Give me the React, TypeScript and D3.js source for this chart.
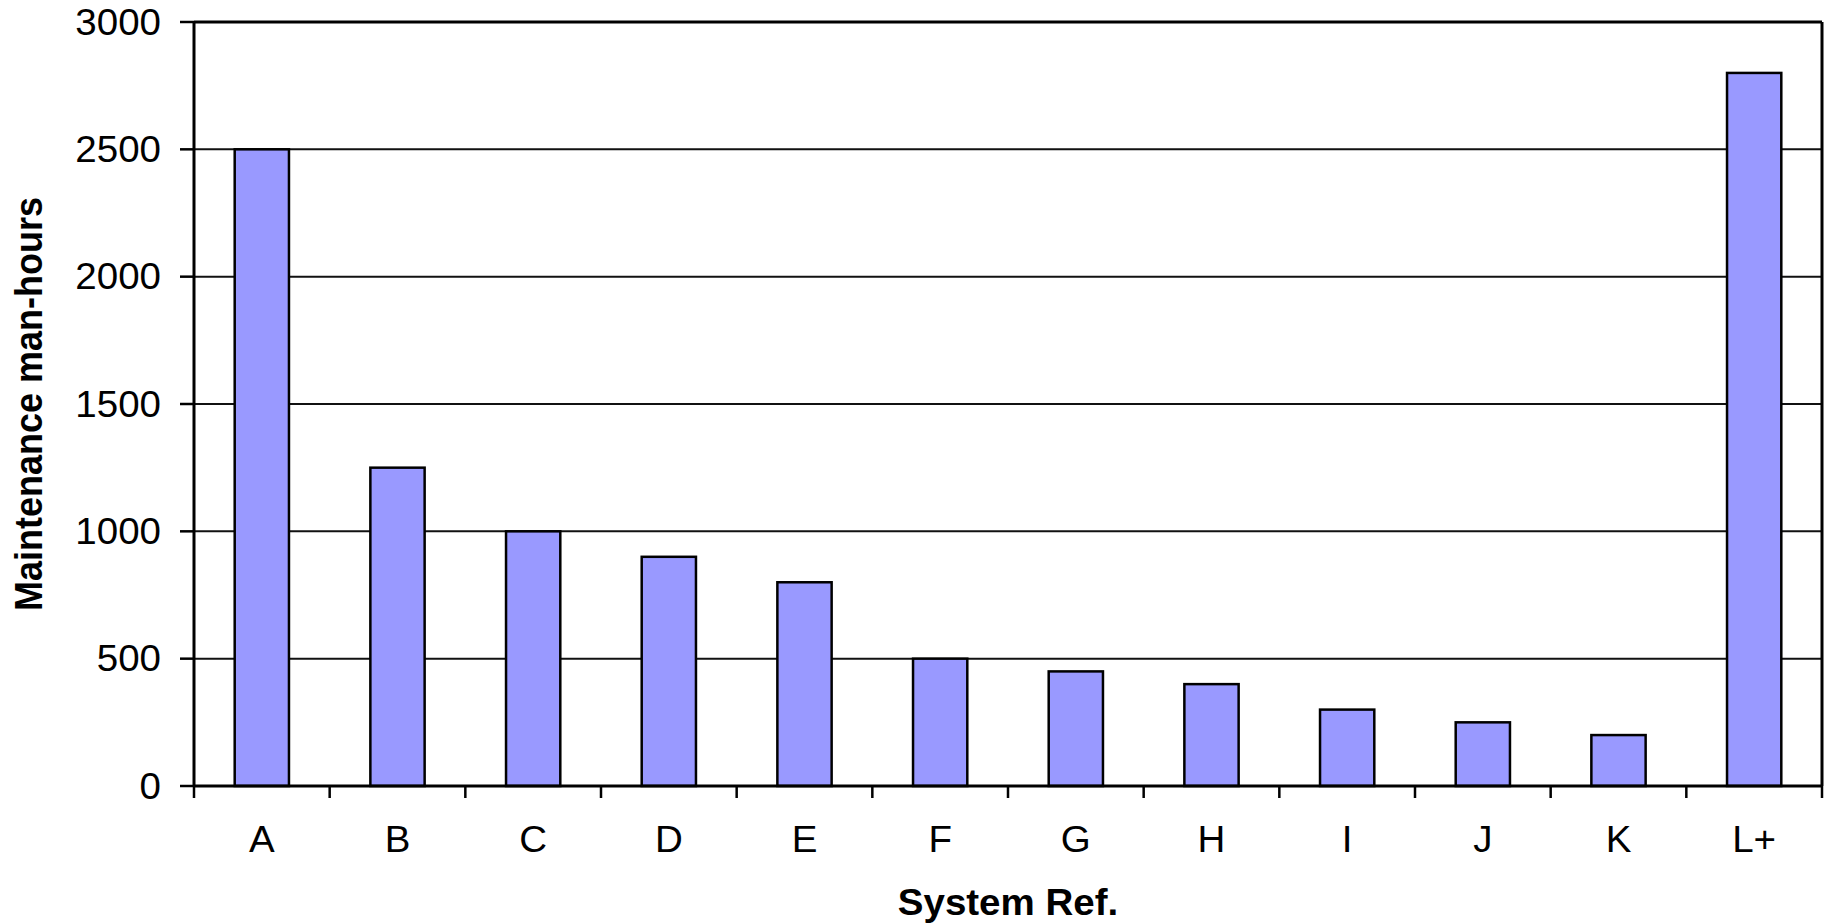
import React from "react";
import * as d3 from "d3";

// Maintenance effort per system
const categories: string[] = ["A", "B", "C", "D", "E", "F", "G", "H", "I", "J", "K", "L+"];
const manHours: number[] = [2500, 1250, 1000, 900, 800, 500, 450, 400, 300, 250, 200, 2800];
const yTicks: number[] = [0, 500, 1000, 1500, 2000, 2500, 3000];

const yTitle = "Maintenance man-hours";
const xTitle = "System Ref.";

const W = 1824;
const H = 923;
const plot = { left: 194, right: 1822, top: 22, bottom: 786 };
const FONT = "'Liberation Sans', Arial, Helvetica, sans-serif";
const FS = 36;
const SX = 1.07;

export default function App() {
  const x = d3
    .scaleBand<string>()
    .domain(categories)
    .range([plot.left, plot.right])
    .paddingInner(0.6)
    .paddingOuter(0.3);
  const step = (plot.right - plot.left) / categories.length;
  const y = d3.scaleLinear().domain([0, 3000]).range([plot.bottom, plot.top]);

  const boundaries = d3.range(categories.length + 1).map((i) => plot.left + i * step);

  return (
    <svg
      width={W}
      height={H}
      viewBox={`0 0 ${W} ${H}`}
      style={{ position: "absolute", left: 0, top: 0, background: "#fff" }}
    >
      <rect x={0} y={0} width={W} height={H} fill="#fff" />
      {/* gridlines */}
      {yTicks
        .filter((t) => t > 0 && t < 3000)
        .map((t) => (
          <line key={`g${t}`} x1={plot.left} x2={plot.right} y1={y(t)} y2={y(t)} stroke="#111" strokeWidth={2} />
        ))}
      {/* bars */}
      {categories.map((c, i) => (
        <rect
          key={c}
          x={x(c)}
          y={y(manHours[i])}
          width={x.bandwidth()}
          height={y(0) - y(manHours[i])}
          fill="#9999FF"
          stroke="#000"
          strokeWidth={2.5}
        />
      ))}
      {/* plot frame */}
      <line x1={plot.left} x2={plot.right} y1={plot.top} y2={plot.top} stroke="#000" strokeWidth={3} />
      <line x1={plot.right} x2={plot.right} y1={plot.top} y2={plot.bottom} stroke="#000" strokeWidth={3} />
      <line x1={plot.left} x2={plot.left} y1={plot.top} y2={plot.bottom} stroke="#000" strokeWidth={3} />
      <line x1={plot.left} x2={plot.right} y1={plot.bottom} y2={plot.bottom} stroke="#000" strokeWidth={3} />
      {/* y ticks and labels */}
      {yTicks.map((t) => (
        <g key={`y${t}`}>
          <line x1={180} x2={plot.left} y1={y(t)} y2={y(t)} stroke="#000" strokeWidth={2.5} />
          <text
            transform={`translate(161,${y(t) + 12.5}) scale(${SX},1)`}
            textAnchor="end"
            fontFamily={FONT}
            fontSize={FS}
            fill="#000"
          >
            {t}
          </text>
        </g>
      ))}
      {/* x ticks */}
      {boundaries.map((bx, i) => (
        <line key={`xt${i}`} x1={bx} x2={bx} y1={plot.bottom} y2={plot.bottom + 12} stroke="#000" strokeWidth={2.5} />
      ))}
      {/* category labels */}
      {categories.map((c) => (
        <text
          key={`xl${c}`}
          transform={`translate(${(x(c) as number) + x.bandwidth() / 2},852) scale(${SX},1)`}
          textAnchor="middle"
          fontFamily={FONT}
          fontSize={FS}
          fill="#000"
        >
          {c}
        </text>
      ))}
      {/* axis titles */}
      <text
        transform={`translate(${(plot.left + plot.right) / 2},915) scale(${SX},1)`}
        textAnchor="middle"
        fontFamily={FONT}
        fontSize={FS}
        fontWeight="bold"
        fill="#000"
      >
        {xTitle}
      </text>
      <text
        transform={`translate(42,${(plot.top + plot.bottom) / 2}) scale(${SX},1) rotate(-90)`}
        textAnchor="middle"
        fontFamily={FONT}
        fontSize={FS}
        fontWeight="bold"
        fill="#000"
      >
        {yTitle}
      </text>
    </svg>
  );
}
